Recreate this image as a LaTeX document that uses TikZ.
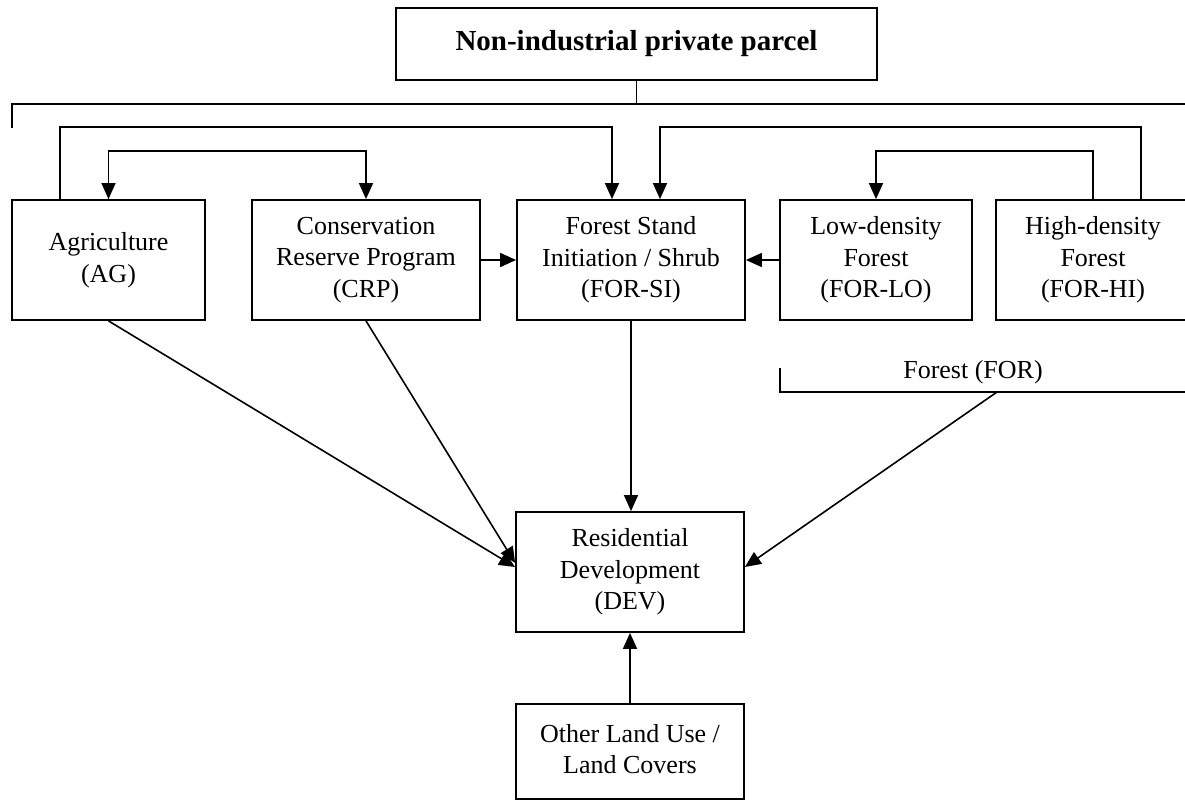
\documentclass[tikz,border=0pt]{standalone}
\usepackage{fontspec}
\setmainfont{Liberation Serif}
\usetikzlibrary{arrows.meta,calc}
\begin{document}
\begin{tikzpicture}[x=1pt,y=-1pt,
  line width=1.6pt,
  box/.style={draw,line width=1.8pt,align=center,inner sep=0pt,
    font=\fontsize{26}{31.5}\selectfont,minimum height=120pt},
  lbl/.style={align=center,inner sep=0pt,font=\fontsize{26}{31.5}\selectfont},
  arr/.style={-{Triangle[length=16pt,width=14pt]}},
  con/.style={line width=1.6pt}
]
\useasboundingbox (0,0) rectangle (1185,803);
% boxes
\node[box,minimum width=481pt,minimum height=72pt] (top) at (636.5,44)
  {\raisebox{8pt}{\fontsize{29}{32}\selectfont\bfseries Non-industrial private parcel}};
\node[box,minimum width=193pt] (ag) at (108.5,260) {Agriculture\\(AG)};
\node[box,minimum width=228pt] (crp) at (366,260) {Conservation\\Reserve Program\\(CRP)};
\node[box,minimum width=228pt] (si) at (631,260) {Forest Stand\\Initiation / Shrub\\(FOR-SI)};
\node[box,minimum width=192pt] (lo) at (876,260) {Low-density\\Forest\\(FOR-LO)};
\node[box,minimum width=194pt] (hi) at (1093,260) {High-density\\Forest\\(FOR-HI)};
\node[box,minimum width=228pt] (dev) at (630,572) {Residential\\Development\\(DEV)};
\node[box,minimum width=228pt,minimum height=95pt] (oth) at (630,751.5)
  {\raisebox{5pt}{\begin{tabular}{@{}c@{}}Other Land Use /\\Land Covers\end{tabular}}};
\node[lbl] (for) at (973,372) {Forest (FOR)};
% coordinates for bracket ends
\coordinate (brL) at (12,128);
\coordinate (brR) at (1195,104);
\coordinate (forL) at (780,368);
\coordinate (forR) at (1195,392);
\coordinate (forS) at (997,392);
% top bracket
\draw[con] (top.south) -- (top.south |- brR);
\draw[con] (brL) -- (brL |- brR) -- (brR);
% AG -> SI
\draw[con,arr] ([xshift=-48.5pt]ag.north) -- ++(0,-72) -| ([xshift=-19pt]si.north);
% AG <-> CRP
\draw[con,arr] ([xshift=-257.5pt]crp.north) -- ++(0,-48) -| (ag.north);
\draw[con,arr] ([xshift=-257.5pt]crp.north) -- ++(0,-48) -| (crp.north);
% HI -> SI
\draw[con,arr] ([xshift=48pt]hi.north) -- ++(0,-72) -| ([xshift=29pt]si.north);
% HI -> LO
\draw[con,arr] (hi.north) -- ++(0,-48) -| (lo.north);
% horizontal arrows into SI
\draw[con,arr] (crp.east) -- (si.west);
\draw[con,arr] (lo.west) -- (si.east);
% into DEV
\draw[con,arr] (ag.south) -- ([yshift=5pt]dev.west);
\draw[con,arr] (crp.south) -- ([yshift=9pt]dev.west);
\draw[con,arr] (si.south) -- (si.south |- dev.north);
\draw[con,arr] (oth.north) -- (dev.south);
% forest bracket
\draw[con] (forL) -- (forL |- forR) -- (forR);
\draw[con,arr] (forS) -- ([yshift=5pt]dev.east);
\end{tikzpicture}
\end{document}
